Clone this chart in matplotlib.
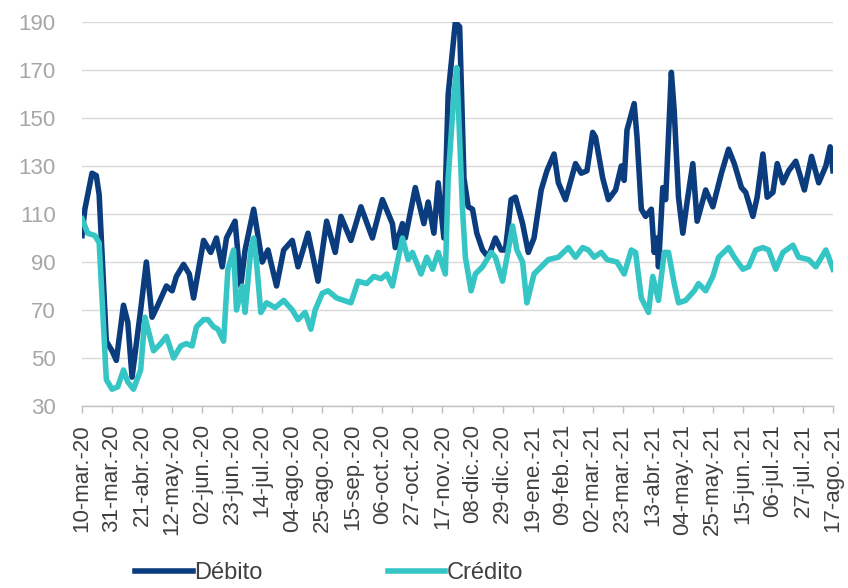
import matplotlib
matplotlib.use("Agg")
import matplotlib.pyplot as plt

plt.rcParams['font.family'] = ['Liberation Sans', 'DejaVu Sans']

# ---- data (days since 10-mar-2020, index values) ----
deb_day = [0, 2, 7, 10, 12, 17, 21, 24, 29, 32, 35, 41, 45, 49, 53, 59, 63, 66, 71, 75, 78, 85, 90, 94, 98, 101,
           107, 111, 114, 120, 126, 130, 136, 141, 147, 151, 158, 165, 171, 177, 181, 188, 195, 203, 210, 217, 219,
           224, 226, 233, 239, 242, 246, 249, 253, 256, 261, 264, 267, 270, 273, 276, 280, 284, 289, 293, 296, 300,
           303, 308, 312, 316, 321, 325, 330, 333, 338, 345, 349, 353, 357, 359, 364, 368, 373, 377, 379, 381, 386,
           388, 391, 394, 398, 400, 402, 403, 406, 408, 412, 414, 417, 420, 423, 427, 430, 436, 441, 447, 452, 456,
           461, 464, 469, 472, 476, 479, 483, 486, 490, 494, 499, 505, 510, 515, 520, 523, 525]
deb_val = [101, 112, 127, 126, 118, 57, 53, 49, 72, 65, 42, 70, 90, 67, 72, 80, 78, 84, 89, 85, 75, 99, 94, 100, 88, 100,
           107, 80, 95, 112, 90, 95, 80, 95, 99, 88, 102, 82, 107, 94, 109, 99, 113, 100, 116, 106, 96,
           106, 100, 121, 106, 115, 102, 123, 100, 160, 190, 188, 125, 113, 112, 102, 95, 92, 100, 95, 95, 116,
           117, 106, 94, 100, 120, 128, 135, 123, 116, 131, 127, 128, 144, 142, 125, 116, 120, 130, 124, 145, 156,
           142, 112, 109, 112, 94, 100, 88, 121, 116, 169, 153, 117, 102, 115, 131, 107, 120, 113, 127, 137, 131,
           121, 119, 109, 117, 135, 117, 119, 131, 123, 128, 132, 120, 134, 123, 130, 138, 128]

cred_day = [0, 4, 9, 12, 17, 21, 25, 29, 32, 36, 41, 44, 50, 55, 59, 64, 69, 73, 77, 80, 85, 88, 92, 95, 99, 102,
            106, 108, 112, 114, 118, 120, 122, 125, 129, 135, 141, 147, 151, 156, 160, 163, 168, 172, 178, 183, 188,
            193, 199, 204, 209, 213, 217, 224, 228, 231, 237, 241, 245, 249, 254, 256, 260, 262, 266, 268, 272, 275,
            280, 286, 289, 294, 298, 301, 304, 308, 311, 316, 321, 326, 333, 340, 345, 350, 354, 358, 363, 367, 374,
            379, 384, 387, 391, 396, 399, 403, 407, 410, 414, 417, 422, 428, 431, 436, 441, 445, 452, 456, 462, 466,
            471, 476, 480, 485, 490, 497, 501, 508, 513, 520, 522, 525]
cred_val = [108, 102, 101, 98, 41, 37, 38, 45, 40, 37, 45, 67, 53, 56, 59, 50, 55, 56, 55, 63, 66, 66, 63, 62, 57, 87,
            95, 70, 80, 69, 95, 100, 90, 69, 73, 71, 74, 70, 66, 69, 62, 70, 77, 78, 75, 74, 73,
            82, 81, 84, 83, 85, 80, 100, 91, 94, 85, 92, 87, 94, 85, 125, 160, 171, 112, 92, 78, 85,
            88, 94, 92, 82, 95, 105, 95, 90, 73, 85, 88, 91, 92, 96, 92, 96, 95, 92, 94, 91, 90,
            85, 95, 94, 75, 69, 84, 74, 94, 94, 81, 73, 74, 78, 81, 78, 84, 92, 96, 92, 87, 88,
            95, 96, 95, 87, 94, 97, 92, 91, 88, 95, 92, 87]

tick_labels = ["10-mar.-20", "31-mar.-20", "21-abr.-20", "12-may.-20", "02-jun.-20", "23-jun.-20",
               "14-jul.-20", "04-ago.-20", "25-ago.-20", "15-sep.-20", "06-oct.-20", "27-oct.-20",
               "17-nov.-20", "08-dic.-20", "29-dic.-20", "19-ene.-21", "09-feb.-21", "02-mar.-21",
               "23-mar.-21", "13-abr.-21", "04-may.-21", "25-may.-21", "15-jun.-21", "06-jul.-21",
               "27-jul.-21", "17-ago.-21"]
y_ticks = [30, 50, 70, 90, 110, 130, 150, 170, 190]

# ---- figure ----
W, H = 848, 588
fig = plt.figure(figsize=(W / 100, H / 100), dpi=100)
left, right, top, bottom = 82, 833, 22, 406
ax = fig.add_axes([left / W, 1 - bottom / H, (right - left) / W, (bottom - top) / H])

c_deb = '#0B3C7D'
c_cred = '#36C5C5'
l1, = ax.plot(deb_day, deb_val, color=c_deb, lw=4.0, solid_joinstyle='round', label='Débito')
l2, = ax.plot(cred_day, cred_val, color=c_cred, lw=4.0, solid_joinstyle='round', label='Crédito')

ax.set_xlim(0, 525)
ax.set_ylim(30, 190)
ax.set_yticks(y_ticks)
ax.set_xticks([21 * i for i in range(len(tick_labels))])
ax.set_xticklabels(tick_labels, rotation=90, fontsize=16, color='#404040')
ax.tick_params(axis='y', length=0, pad=19, labelsize=16, labelcolor='#a6a6a6')
ax.tick_params(axis='x', length=5, width=1, color='#bfbfbf', pad=8)
ax.grid(axis='y', color='#d9d9d9', lw=1)
ax.set_axisbelow(True)
for s in ['top', 'right', 'left']:
    ax.spines[s].set_visible(False)
ax.spines['bottom'].set_color('#bfbfbf')
ax.spines['bottom'].set_linewidth(1)

leg = fig.legend(handles=[l1, l2], loc='center left', bbox_to_anchor=(135 / W, 1 - 573 / H),
                 ncol=2, frameon=False, fontsize=17, handlelength=2.45, handletextpad=0.05,
                 columnspacing=5.3, borderpad=0, borderaxespad=0)
for t in leg.get_texts():
    t.set_color('#404040')

fig.savefig('out.png', dpi=100)
